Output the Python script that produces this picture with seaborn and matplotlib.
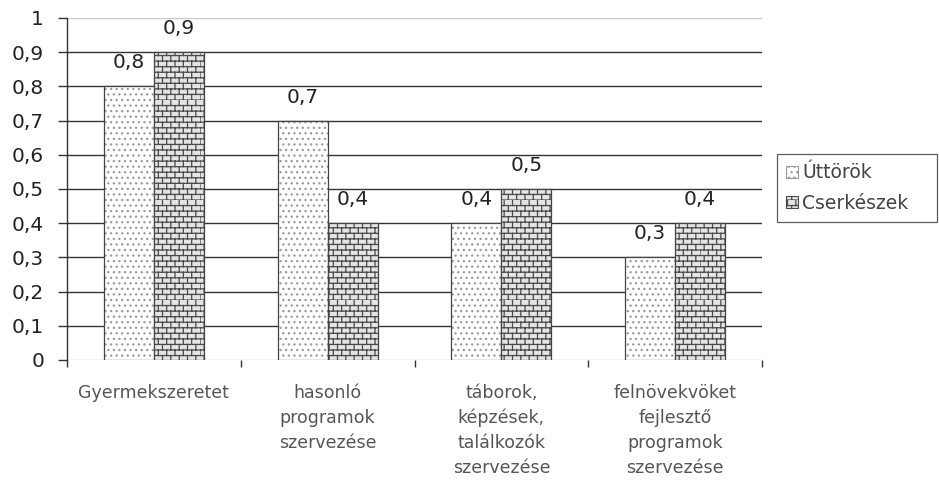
import warnings
import numpy as np
import matplotlib
matplotlib.use("Agg")
import matplotlib.pyplot as plt
import matplotlib.hatch as mhatch
from matplotlib.path import Path
from matplotlib.patches import Patch
import seaborn as sns
import pandas as pd

warnings.filterwarnings("ignore")

categories = ["Gyermekszeretet", "hasonló\nprogramok\nszervezése",
              "táborok,\nképzések,\ntalálkozók\nszervezése",
              "felnövekvöket\nfejlesztő\nprogramok\nszervezése"]
series_names = ["Úttörök", "Cserkészek"]
uttorok = [0.8, 0.7, 0.4, 0.3]
cserkeszek = [0.9, 0.4, 0.5, 0.4]
y_ticks = [0, 0.1, 0.2, 0.3, 0.4, 0.5, 0.6, 0.7, 0.8, 0.9, 1]


class BrickHatch(mhatch.HatchPatternBase):
    """Brick-wall hatch, selected with the character 'b'."""
    rows = 18
    cols = 12

    def __init__(self, hatch, density):
        self.on = hatch.count("b") > 0
        if self.on:
            self.num_vertices = 2 * self.rows + 2 * self.rows * self.cols
        else:
            self.num_vertices = 0

    def set_vertices_and_codes(self, vertices, codes):
        pts = []
        for r in range(self.rows):
            y0 = r / self.rows
            y1 = (r + 1) / self.rows
            pts += [(0.0, y0), (1.0, y0)]
            shift = 0.5 / self.cols if r % 2 else 0.0
            for c in range(self.cols):
                x = c / self.cols + shift
                pts += [(x, y0), (x, y1)]
        arr = np.array(pts)
        vertices[:] = arr
        codes[0::2] = Path.MOVETO
        codes[1::2] = Path.LINETO


if BrickHatch not in mhatch._hatch_types:
    mhatch._hatch_types.append(BrickHatch)

df = pd.DataFrame({
    "kategoria": categories * 2,
    "csoport": [series_names[0]] * 4 + [series_names[1]] * 4,
    "ertek": uttorok + cserkeszek,
})

sns.set_style("white")
plt.rcParams["font.family"] = ["DejaVu Sans"]
plt.rcParams["hatch.linewidth"] = 0.9

fills = ["white", "#e4e4e4"]
hatches = ["...", "b"]
hatch_cols = ["#9a9a9a", "#4a4a4a"]
edge = "#444444"

fig = plt.figure(figsize=(9.39, 4.87), dpi=100)
ax = fig.add_axes([0.0714, 0.2608, 0.7401, 0.7023])

sns.barplot(data=df, x="kategoria", y="ertek", hue="csoport",
            hue_order=series_names, order=categories, width=0.575,
            palette=fills, edgecolor=edge, linewidth=0.9,
            ax=ax, legend=False, saturation=1)

for cont, h, hc in zip(ax.containers, hatches, hatch_cols):
    for bar in cont:
        bar.set_hatch(h)
        bar._hatch_color = matplotlib.colors.to_rgba(hc)
    ax.bar_label(cont, labels=[f"{v:.1f}".replace(".", ",") for v in cont.datavalues],
                 padding=10, fontsize=14.5, color="#222222")

ax.set_ylim(0, 1)
ax.set_xlim(-0.5, 3.5)
ax.set_yticks(y_ticks)
ax.set_yticklabels([("0" if t == 0 else "1" if t == 1 else f"{t:.1f}".replace(".", ",")) for t in y_ticks],
                   fontsize=14.5, color="#222222")
for t in y_ticks:
    ax.axhline(t, color="#c8c8c8" if t in (0, 1) else "#333333", lw=1.0, zorder=0.5)

ax.set_xlabel("")
ax.set_ylabel("")
ax.tick_params(axis="y", left=True, length=6.5, width=1.0, color="#333333", pad=10)
ax.set_xticks([-0.5, 0.5, 1.5, 2.5, 3.5], minor=True)
ax.tick_params(axis="x", which="minor", bottom=True, length=5.0, width=1.0, color="#333333")
ax.tick_params(axis="x", which="major", bottom=False, pad=13.5, labelsize=12.5, labelcolor="#555555")
for lbl in ax.get_xticklabels():
    lbl.set_linespacing(1.5)
    lbl.set_verticalalignment("top")

for side in ["top", "right", "bottom"]:
    ax.spines[side].set_visible(False)
ax.spines["left"].set_color("#333333")
ax.spines["left"].set_linewidth(1.0)

handles = [Patch(facecolor=f, edgecolor=hc, hatch=h, linewidth=0.8)
           for f, h, hc in zip(fills, hatches, hatch_cols)]
leg = fig.legend(handles, series_names, loc="upper left",
                 bbox_to_anchor=(0.8275, 0.684, 0.1705, 0.0),
                 mode="expand", frameon=True, fancybox=False,
                 fontsize=13.5, handlelength=0.6, handleheight=0.6,
                 handletextpad=0.25, borderpad=0.5, labelspacing=0.6,
                 borderaxespad=0)
leg.get_frame().set_edgecolor("#333333")
leg.get_frame().set_linewidth(0.9)
for txt in leg.get_texts():
    txt.set_color("#444444")

fig.savefig("out.png", dpi=100, facecolor="white")
